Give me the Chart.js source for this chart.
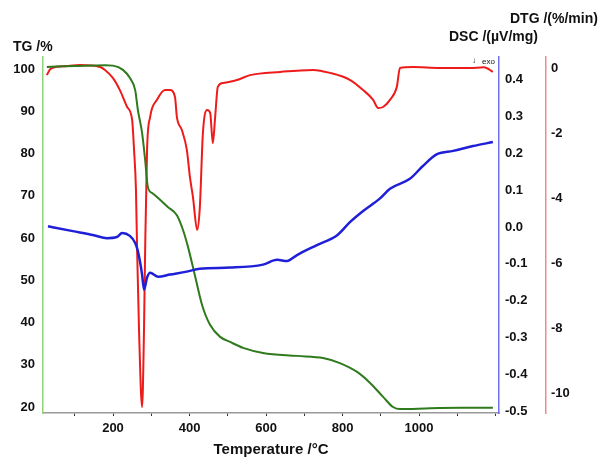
<!DOCTYPE html>
<html>
<head>
<meta charset="utf-8">
<script src="https://cdn.jsdelivr.net/npm/chart.js@4.4.1/dist/chart.umd.min.js"></script>
<style>
  html, body { margin: 0; padding: 0; background: #fff; }
  #wrap { width: 601px; height: 457px; }
</style>
</head>
<body>
<div id="wrap"><canvas id="chart" width="601" height="457"></canvas></div>
<script>
// === Dados ===
// TG (%), eixo esquerdo
const tgTemp   = [27, 100, 179, 200, 226, 244, 258, 265, 276, 284, 291, 303, 315, 344, 367, 383, 396, 414, 433, 454, 480, 506, 540, 592, 681, 749, 793, 838, 872, 906, 932, 950, 1029, 1110, 1193];
const tgValues = [100.5, 100.7, 100.9, 100.8, 99.8, 97.9, 95.0, 90.3, 84.9, 78.5, 72.1, 70.6, 69.7, 67.3, 65.4, 61.9, 57.9, 51.2, 44.1, 39.4, 36.6, 35.4, 34.0, 32.8, 32.1, 31.6, 30.4, 28.3, 25.7, 22.4, 20.0, 19.5, 19.7, 19.8, 19.8];

// DSC (µV/mg), primeiro eixo direito
const dscTemp   = [30, 95, 150, 184, 210, 224, 244, 258, 265, 276, 281, 289, 297, 318, 349, 393, 427, 506, 592, 629, 655, 681, 733, 786, 820, 853, 898, 924, 976, 1010, 1047, 1089, 1141, 1193];
const dscValues = [0.002, -0.011, -0.022, -0.030, -0.027, -0.016, -0.024, -0.043, -0.065, -0.129, -0.170, -0.137, -0.124, -0.135, -0.129, -0.121, -0.113, -0.110, -0.102, -0.089, -0.092, -0.076, -0.049, -0.022, 0.014, 0.043, 0.078, 0.104, 0.131, 0.166, 0.198, 0.207, 0.220, 0.231];

// DTG (%/min), segundo eixo direito
const dtgTemp   = [27, 35, 41, 80, 114, 166, 179, 200, 218, 237, 250, 255, 260, 263, 268, 276, 281, 284, 289, 297, 315, 336, 349, 362, 367, 380, 393, 401, 409, 420, 427, 435, 446, 454, 461, 467, 474, 488, 524, 558, 637, 723, 767, 820, 854, 880, 893, 906, 924, 942, 950, 984, 1055, 1133, 1170, 1193];
const dtgValues = [-0.22, -0.05, 0.0, 0.06, 0.09, 0.03, -0.06, -0.31, -0.68, -1.2, -1.6, -2.52, -3.75, -5.6, -8.06, -10.43, -8.06, -5.6, -2.52, -1.51, -0.98, -0.68, -0.68, -0.89, -1.51, -1.91, -2.52, -3.35, -3.97, -4.98, -4.28, -2.0, -1.29, -1.38, -2.31, -1.51, -0.58, -0.46, -0.37, -0.22, -0.12, -0.06, -0.15, -0.37, -0.68, -0.98, -1.23, -1.2, -0.98, -0.58, 0.0, 0.03, 0.0, 0.0, 0.02, -0.12];

// Marcas dos eixos
const xTicks   = [100, 200, 300, 400, 500, 600, 700, 800, 900, 1000, 1100, 1200];
const xLabels  = [200, 400, 600, 800, 1000];
const tgTicks  = [20, 30, 40, 50, 60, 70, 80, 90, 100];
const dscTicks = [-0.5, -0.4, -0.3, -0.2, -0.1, 0.0, 0.1, 0.2, 0.3, 0.4];
const dtgTicks = [-10, -8, -6, -4, -2, 0];

const toPoints = (xs, ys) => xs.map((x, i) => ({ x: x, y: ys[i] }));
const setTicks = list => scale => { scale.ticks = list.map(v => ({ value: v })); };

const FONT = "'Liberation Sans', Arial, sans-serif";

// textos de cabeçalho (títulos dos eixos) desenhados à mão
const titlesPlugin = {
  id: 'titles',
  afterDraw(chart) {
    const ctx = chart.ctx;
    const a = chart.chartArea;
    ctx.save();
    ctx.fillStyle = '#111';
    ctx.textBaseline = 'middle';
    ctx.font = 'bold 14px ' + FONT;
    ctx.textAlign = 'left';
    ctx.fillText('TG /%', 13, 47);
    ctx.fillText('DSC /(\u00b5V/mg)', a.right - 50, 37);
    ctx.fillText('DTG /(%/min)', a.right + 11, 19);
    ctx.font = 'bold 15px ' + FONT;
    ctx.textAlign = 'center';
    ctx.fillText('Temperature /\u00b0C', (a.left + a.right) / 2, 450);
    // marcador exo
    ctx.font = '8px ' + FONT;
    ctx.textAlign = 'left';
    ctx.fillText('\u2193', a.right - 27, 61);
    ctx.fillText('exo', a.right - 17, 62);
    ctx.restore();
  }
};

const ctx = document.getElementById('chart').getContext('2d');
new Chart(ctx, {
  type: 'line',
  data: {
    datasets: [
      { label: 'DSC', data: toPoints(dscTemp, dscValues), yAxisID: 'yDSC', borderColor: '#1f1fd8', borderWidth: 2.5 },
      { label: 'TG', data: toPoints(tgTemp, tgValues), yAxisID: 'yTG', borderColor: '#2f7a1c', borderWidth: 2 },
      { label: 'DTG', data: toPoints(dtgTemp, dtgValues), yAxisID: 'yDTG', borderColor: '#ee1b1b', borderWidth: 2 }
    ]
  },
  options: {
    responsive: false,
    animation: false,
    events: [],
    layout: { padding: { top: 57, left: 0, right: 0, bottom: 0 } },
    elements: {
      point: { radius: 0 },
      line: { cubicInterpolationMode: 'monotone', fill: false }
    },
    plugins: { legend: { display: false }, tooltip: { enabled: false } },
    scales: {
      x: {
        type: 'linear',
        min: 17, max: 1209,
        afterBuildTicks: setTicks(xTicks),
        afterFit: s => { s.height = 44; },
        border: { color: '#999', width: 1.5 },
        grid: { drawOnChartArea: false, drawTicks: true, tickLength: 3, color: '#333' },
        ticks: {
          color: '#111', padding: 5, maxRotation: 0, autoSkip: false,
          font: { family: FONT, size: 13, weight: 'bold' },
          callback: v => xLabels.includes(v) ? String(v) : ''
        }
      },
      yTG: {
        position: 'left',
        min: 18.58, max: 102.84,
        afterBuildTicks: setTicks(tgTicks),
        afterFit: s => { s.width = 43; },
        border: { color: '#8fd27a', width: 1.5, dash: [2, 2] },
        grid: { drawOnChartArea: false, drawTicks: false },
        ticks: {
          color: '#111', padding: 8, autoSkip: false,
          font: { family: FONT, size: 13, weight: 'bold' }
        }
      },
      yDSC: {
        position: 'right',
        weight: 0,
        min: -0.505, max: 0.462,
        afterBuildTicks: setTicks(dscTicks),
        afterFit: s => { s.width = 47; },
        border: { color: '#6f6ff2', width: 1.5, dash: [2, 2] },
        grid: { drawOnChartArea: false, drawTicks: false },
        ticks: {
          color: '#111', padding: 6, autoSkip: false,
          font: { family: FONT, size: 13, weight: 'bold' },
          callback: v => (Math.abs(v) < 1e-9 ? 0 : v).toFixed(1)
        }
      },
      yDTG: {
        position: 'right',
        weight: 1,
        min: -10.615, max: 0.338,
        afterBuildTicks: setTicks(dtgTicks),
        afterFit: s => { s.width = 55; },
        border: { color: '#f08a8a', width: 1.5 },
        grid: { drawOnChartArea: false, drawTicks: false },
        ticks: {
          color: '#111', padding: 5, autoSkip: false,
          font: { family: FONT, size: 13, weight: 'bold' }
        }
      }
    }
  },
  plugins: [titlesPlugin]
});
</script>
</body>
</html>
